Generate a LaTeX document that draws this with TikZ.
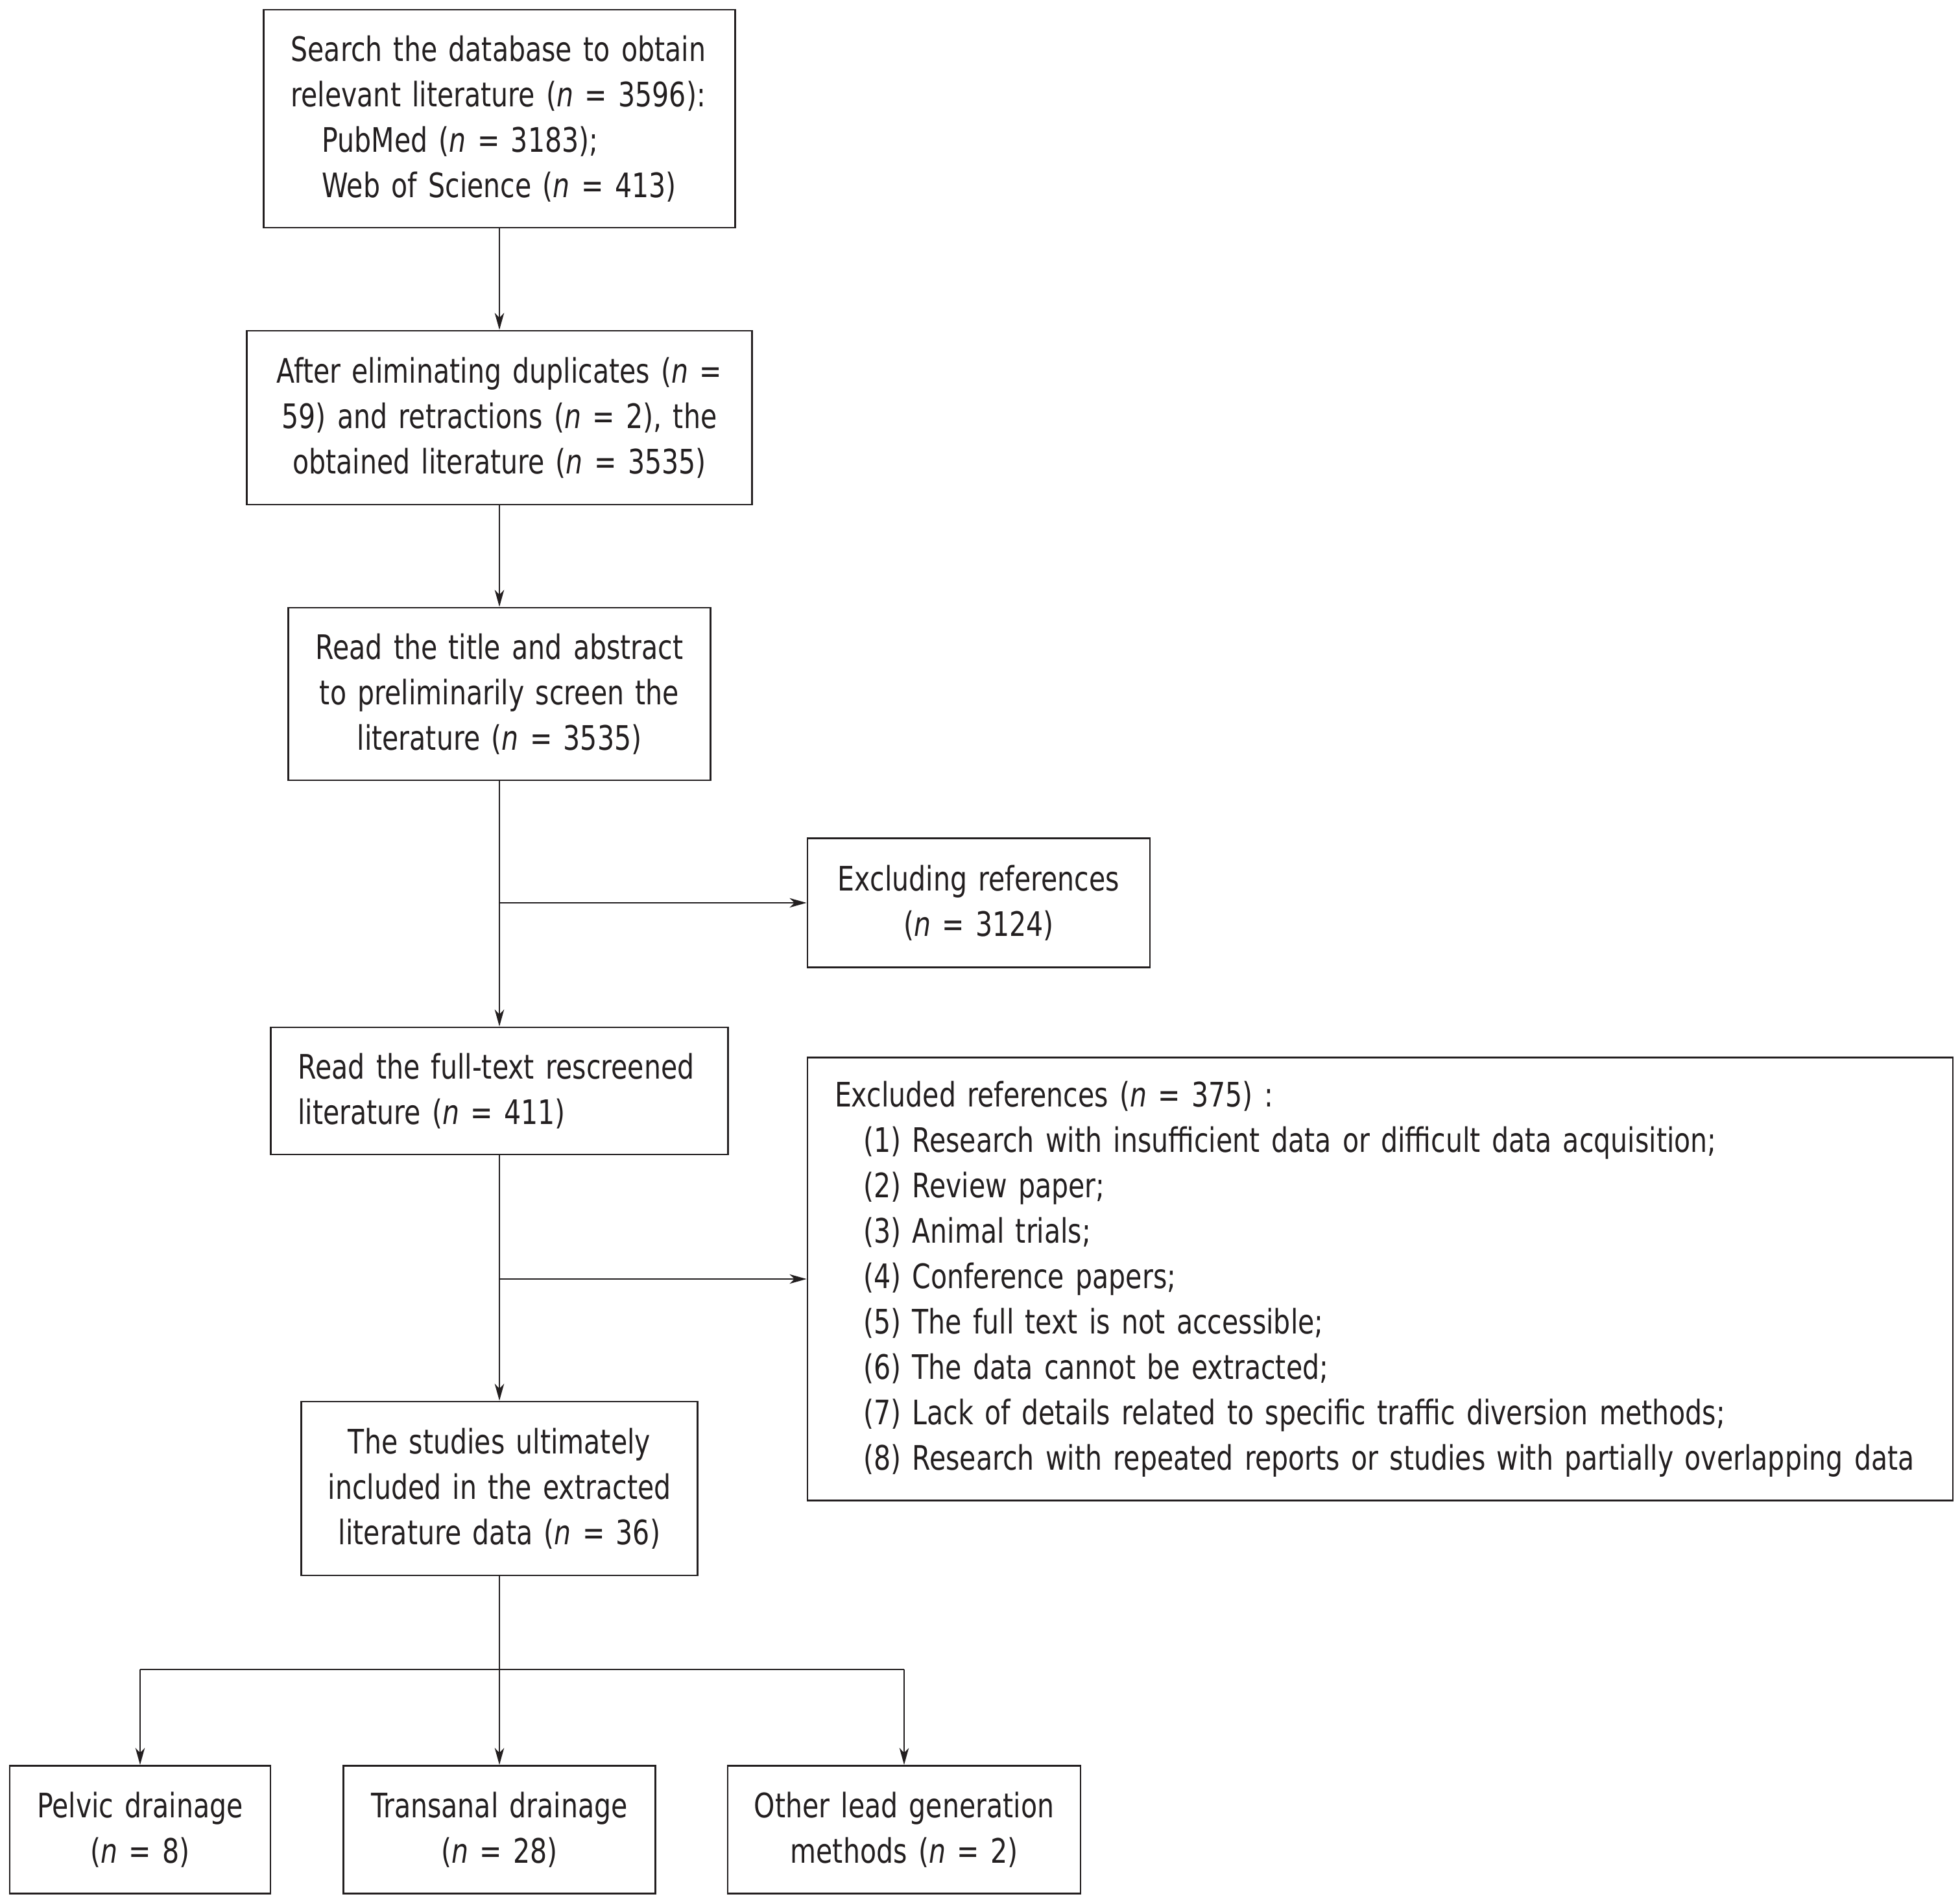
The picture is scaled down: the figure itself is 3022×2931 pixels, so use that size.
\documentclass[tikz,border=0pt]{standalone}
\usepackage{fontspec}
\setmainfont{DejaVu Sans}[FakeStretch=0.79]
\usetikzlibrary{arrows.meta}
\definecolor{ink}{RGB}{35,31,32}
\tikzset{
  box/.style={draw=ink, line width=0.7pt, rectangle, inner sep=0pt, text=ink, font=\fontsize{13}{17.5}\selectfont},
  cbox/.style={box, align=center},
  lbox/.style={box, align=left, inner xsep=10.5pt},
  conn/.style={draw=ink, line width=0.55pt},
  arr/.style={conn, -{Stealth[length=6.5pt, width=3.6pt, inset=1.8pt]}}
}
\begin{document}
\begin{tikzpicture}[x=0.25pt, y=-0.25pt]
\useasboundingbox (0,0) rectangle (3022,2931);
\node[lbox, minimum width=181.75pt, minimum height=84pt, text width=160.75pt] (b1) at (770,183)
 {Search the database to obtain\\ relevant literature (\textit{n} = 3596):\\ \hspace*{12pt}PubMed (\textit{n} = 3183);\\ \hspace*{12pt}Web of Science (\textit{n} = 413)};
\node[cbox, minimum width=194.75pt, minimum height=67pt, text width=190pt] (b2) at (770,644)
 {After eliminating duplicates (\textit{n} =\\ 59) and retractions (\textit{n} = 2), the\\ obtained literature (\textit{n} = 3535)};
\node[cbox, minimum width=162.75pt, minimum height=66.5pt, text width=158pt] (b3) at (770,1070)
 {Read the title and abstract\\ to preliminarily screen the\\ literature (\textit{n} = 3535)};
\node[cbox, minimum width=132pt, minimum height=49.75pt, text width=128pt] (e1) at (1509,1392)
 {Excluding references\\ (\textit{n} = 3124)};
\node[lbox, minimum width=176.25pt, minimum height=49pt, text width=155.25pt] (b4) at (770,1682)
 {Read the full-text rescreened\\ literature (\textit{n} = 411)};
\node[lbox, minimum width=441.5pt, minimum height=170.75pt, text width=420.5pt] (e2) at (2128,1972)
 {Excluded references (\textit{n} = 375) :\\
 \hspace*{11pt}(1) Research with insufficient data or difficult data acquisition;\\
 \hspace*{11pt}(2) Review paper;\\
 \hspace*{11pt}(3) Animal trials;\\
 \hspace*{11pt}(4) Conference papers;\\
 \hspace*{11pt}(5) The full text is not accessible;\\
 \hspace*{11pt}(6) The data cannot be extracted;\\
 \hspace*{11pt}(7) Lack of details related to specific traffic diversion methods;\\
 \hspace*{11pt}(8) Research with repeated reports or studies with partially overlapping data};
\node[cbox, minimum width=152.75pt, minimum height=67pt, text width=148pt] (b5) at (770,2295)
 {The studies ultimately\\ included in the extracted\\ literature data (\textit{n} = 36)};
\node[cbox, minimum width=100.5pt, minimum height=49.25pt, text width=97pt] (p) at (216,2821)
 {Pelvic drainage\\ (\textit{n} = 8)};
\node[cbox, minimum width=120.25pt, minimum height=49.25pt, text width=117pt] (t) at (770,2821)
 {Transanal drainage\\ (\textit{n} = 28)};
\node[cbox, minimum width=136pt, minimum height=49.25pt, text width=132pt] (o) at (1394,2821)
 {Other lead generation\\ methods (\textit{n} = 2)};
\coordinate (j1) at (770,1392);
\coordinate (j2) at (770,1972);
\coordinate (bar) at (770,2574);
\draw[arr] (b1.south) -- (b2.north);
\draw[arr] (b2.south) -- (b3.north);
\draw[arr] (b3.south) -- (b4.north);
\draw[arr] (j1) -- (e1.west);
\draw[arr] (b4.south) -- (b5.north);
\draw[arr] (j2) -- (e2.west);
\draw[conn] (b5.south) -- (bar);
\draw[conn] (bar -| p) -- (bar -| o);
\draw[arr] (bar -| p) -- (p.north);
\draw[arr] (bar) -- (t.north);
\draw[arr] (bar -| o) -- (o.north);
\end{tikzpicture}
\end{document}
